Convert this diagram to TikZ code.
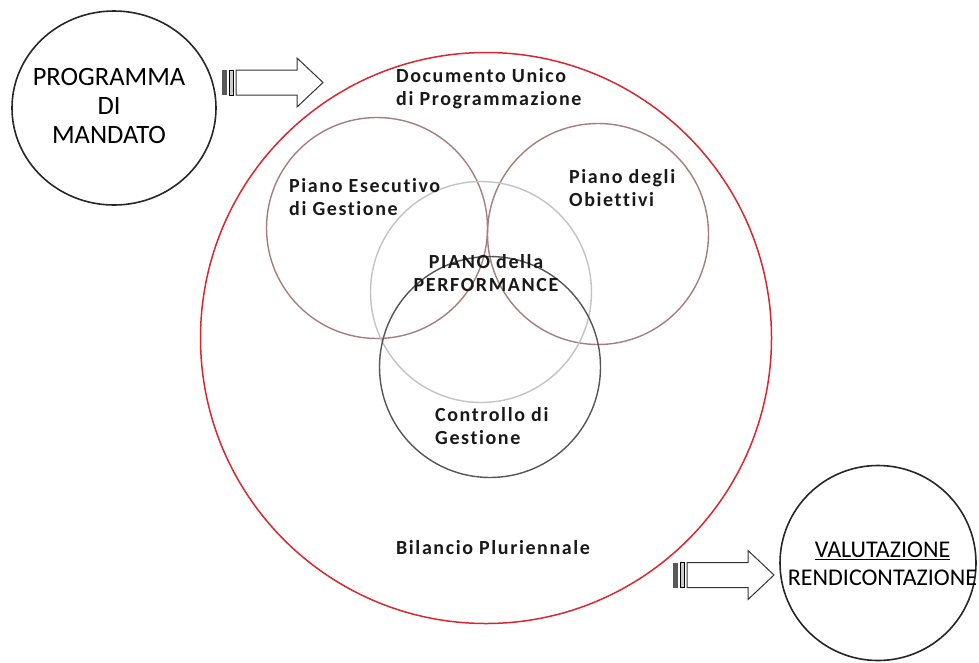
\documentclass[tikz,border=0pt]{standalone}
\usepackage{fontspec}
\setmainfont{Carlito}
\newfontfamily\spacedfont[LetterSpace=8,Ligatures=NoCommon,UprightFont=*-Bold]{Carlito}
\usetikzlibrary{shapes.geometric}
\definecolor{dupred}{RGB}{218,38,48}
\definecolor{pegrose}{RGB}{165,125,125}
\definecolor{perfgray}{RGB}{195,195,195}
\definecolor{cdggray}{RGB}{85,85,85}
\begin{document}
\begin{tikzpicture}[x=1pt,y=-1pt,
	outercircle/.style={ellipse,draw=black!85,line width=1.6pt,inner sep=0pt},
	venn/.style={circle,line width=1.4pt,minimum size=221pt,inner sep=0pt},
	label/.style={font=\spacedfont\fontsize{20}{23}\selectfont,text=black!90,align=left,inner sep=0pt},
	bigtext/.style={font=\fontsize{26.5}{29}\selectfont,align=center,inner sep=0pt},
	stripedarrow/.pic={
		\fill[black!65] (0,-12.5) rectangle (5,12.5);
		\draw[line width=1pt,fill=black!20] (7,-12.5) rectangle (11,12.5);
		\draw[line width=1pt,black!80] (14,-12.5) -- (75,-12.5) -- (75,-24.5) -- (101,0)
			-- (75,24.5) -- (75,12.5) -- (14,12.5) -- cycle;
	}]
	\useasboundingbox (0,0) rectangle (979,662);
	
	% outer circles
	\node[outercircle,minimum width=204pt,minimum height=194pt](pdm) at (114,108) {};
	\node[outercircle,minimum width=196pt,minimum height=195pt](val) at (878,563) {};
	\node[circle,draw=dupred,line width=1.5pt,minimum size=571pt,inner sep=0pt](dup) at (486,338) {};
	
	% the four plans
	\node[venn,draw=pegrose](peg) at (377,228) {};
	\node[venn,draw=pegrose](pdo) at (598,234) {};
	\node[venn,draw=perfgray](perf) at (481,292) {};
	\node[venn,draw=cdggray](cdg) at (490,367) {};
	
	% texts
	\node[bigtext](pdmtext) at (109,106) {PROGRAMMA\\DI\\MANDATO};
	\node[bigtext,font=\fontsize{24}{28}\selectfont](valtext) at (882.5,564) {\underline{VALUTAZIONE}\\RENDICONTAZIONE};
	\node[label,anchor=west](duptext) at (396,89) {Documento Unico\\di Programmazione};
	\node[label,anchor=west](pegtext) at (289,197) {Piano Esecutivo\\di Gestione};
	\node[label,anchor=west](pdotext) at (569,188) {Piano degli\\Obiettivi};
	\node[label,align=center](perftext) at (486,273) {PIANO della\\PERFORMANCE};
	\node[label,anchor=west](cdgtext) at (435,426) {Controllo di\\Gestione};
	\node[label](biltext) at (493,548) {Bilancio Pluriennale};
	
	% arrows
	\pic (toparrow) at (222,82.5) {stripedarrow};
	\pic (botarrow) at (673,575) {stripedarrow};
\end{tikzpicture}
\end{document}
